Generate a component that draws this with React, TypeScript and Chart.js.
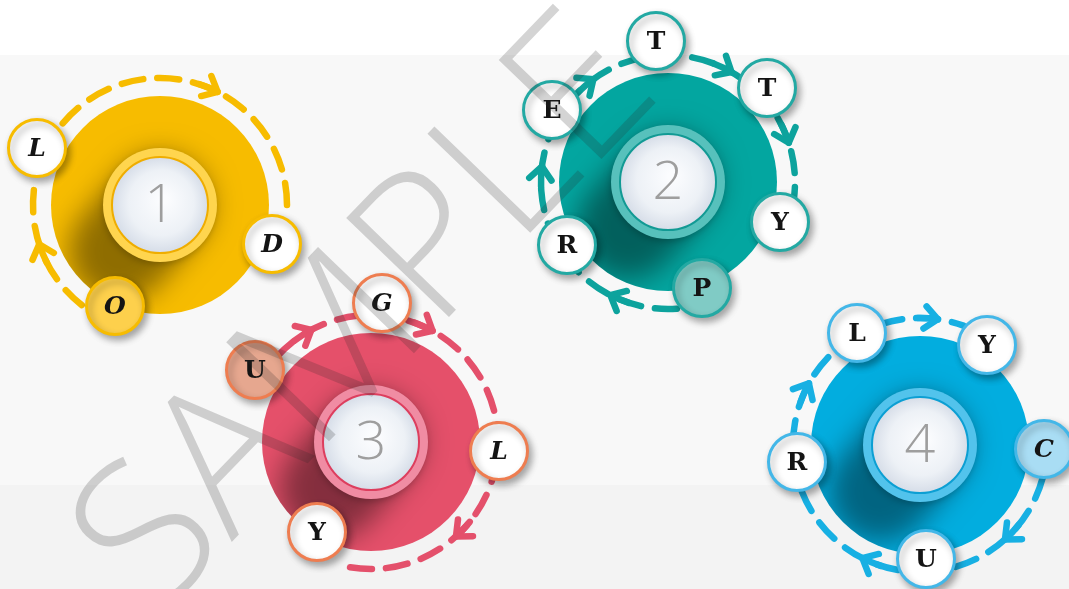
import React, { useEffect, useRef } from 'react';
import { Chart, registerables } from 'chart.js';
Chart.register(...registerables);

const W = 1069;
const H = 589;

// ---- groups (the four numbered discs) ----
const groupNumbers = ['1', '2', '3', '4'];
const groupWords = ['OLD', 'PRETTY', 'UGLY', 'CURLY'];
const groupX = [160, 668, 371, 920];
const groupY = [205, 182, 442, 445];

// ---- letters around the discs ----
const letterText = ['L', 'D', 'O', 'T', 'T', 'Y', 'P', 'R', 'E', 'G', 'L', 'Y', 'U', 'L', 'Y', 'C', 'U', 'R'];
const letterGroup = [0, 0, 0, 1, 1, 1, 1, 1, 1, 2, 2, 2, 2, 3, 3, 3, 3, 3];
const letterX = [37, 272, 115, 656, 767, 780, 702, 567, 552, 382, 499, 317, 255, 857, 987, 1044, 926, 797];
const letterY = [148, 244, 306, 41, 88, 222, 288, 245, 110, 303, 451, 532, 370, 333, 345, 449, 559, 462];

// ---- dashed orbit segments (degrees, clockwise) ----
const arcGroup = [0, 0, 1, 2, 3, 3, 3];
const arcStart = [-140, 128, 86, -138, -108, 15, 100];
const arcEnd = [6, 190, 368, 100, -70, 75, 232];

// ---- arrow heads on the orbits (degrees) ----
const arrowGroup = [0, 0, 1, 1, 1, 1, 1, 2, 2, 2, 3, 3, 3, 3];
const arrowAngle = [-63, 162, 117, 187, 234, 300, 342, -118, -61, 48, -82, 48, 117, 209];

// ---- watermark ----
const watermarkText = 'SAMPLE';
const watermarkAnchorX = 530; // corner of the "L"
const watermarkAnchorY = 223;
const watermarkAngle = -46;

// ---- styles ----
const groupColor = ['#F7BC00', '#03A6A0', '#E5506A', '#02ADDF'];
const arcColor = ['#F7BC00', '#0DA39D', '#E4506B', '#17B0E3'];
const ringColor = ['#FFD54E', '#57C1BC', '#F08CA3', '#52C3EC'];
const ringLine = ['#EFAD00', '#129A94', '#DD3E5E', '#0C9FD3'];
const letterBorder = ['#F7BC00', '#23A9A3', '#EE7D50', '#43B7E8'];
const letterFill = ['#FDD04C', '#80CBC5', '#E6A78F', '#A9DDF4'];
const italicLetters = [0, 1, 2, 9, 10, 15];

const DISC_R = 109;
const RING_R = 57;
const CENTER_R = 48;
const LETTER_R = 28.5;
const ORBIT_R = 127;

const isFirst = (i: number) => groupWords[letterGroup[i]][0] === letterText[i];

const rad = (d: number) => (d * Math.PI) / 180;

function drawArrow(ctx: CanvasRenderingContext2D, cx: number, cy: number, deg: number) {
  const a = rad(deg);
  const tx = cx + ORBIT_R * Math.cos(a);
  const ty = cy + ORBIT_R * Math.sin(a);
  const dx = -Math.sin(a);
  const dy = Math.cos(a);
  const back = Math.atan2(-dy, -dx);
  const L = 17;
  const spread = 0.72;
  ctx.beginPath();
  ctx.arc(cx, cy, ORBIT_R, a - 20 / ORBIT_R, a, false);
  ctx.stroke();
  ctx.beginPath();
  ctx.moveTo(tx + L * Math.cos(back + spread), ty + L * Math.sin(back + spread));
  ctx.lineTo(tx, ty);
  ctx.lineTo(tx + L * Math.cos(back - spread), ty + L * Math.sin(back - spread));
  ctx.stroke();
}

const infographicPlugin = {
  id: 'infographic',
  beforeDraw(chart: any) {
    const ctx = chart.ctx as CanvasRenderingContext2D;
    const ys = chart.scales.y;
    ctx.save();
    ctx.fillStyle = '#FFFFFF';
    ctx.fillRect(0, 0, chart.width, chart.height);
    const top = ys.getPixelForValue(55);
    const mid = ys.getPixelForValue(485);
    ctx.fillStyle = '#F8F8F8';
    ctx.fillRect(0, top, chart.width, mid - top);
    ctx.fillStyle = '#F3F3F3';
    ctx.fillRect(0, mid, chart.width, chart.height - mid);
    ctx.restore();
  },
  beforeDatasetDraw(chart: any, args: any) {
    const ctx = chart.ctx as CanvasRenderingContext2D;
    const label = chart.data.datasets[args.index].label;
    if (label === 'rings') {
      const discs = chart.getDatasetMeta(0).data;
      discs.forEach((el: any) => {
        ctx.save();
        ctx.beginPath();
        ctx.arc(el.x, el.y, DISC_R, 0, Math.PI * 2);
        ctx.clip();
        ctx.shadowColor = 'rgba(0,0,0,0.42)';
        ctx.shadowBlur = 28;
        ctx.shadowOffsetX = 3000;
        ctx.shadowOffsetY = 0;
        ctx.fillStyle = '#000';
        ctx.beginPath();
        for (let k = 0; k <= 10; k++) {
          const t = k / 10;
          const px = el.x - 3000 - 40 * t;
          const py = el.y + 46 * t;
          ctx.moveTo(px + RING_R - 6, py);
          ctx.arc(px, py, RING_R - 6, 0, Math.PI * 2);
        }
        ctx.fill();
        ctx.restore();
      });
      ctx.save();
      ctx.shadowColor = 'rgba(0,0,0,0.18)';
      ctx.shadowBlur = 6;
      ctx.shadowOffsetX = -1;
      ctx.shadowOffsetY = 3;
    }
    if (label === 'letters') {
      const discs = chart.getDatasetMeta(0).data;
      ctx.save();
      ctx.lineCap = 'round';
      ctx.lineJoin = 'round';
      arcGroup.forEach((g, i) => {
        const el = discs[g];
        ctx.strokeStyle = arcColor[g];
        ctx.lineWidth = 6.5;
        ctx.setLineDash([22, 14]);
        ctx.beginPath();
        ctx.arc(el.x, el.y, ORBIT_R, rad(arcStart[i]), rad(arcEnd[i]), false);
        ctx.stroke();
      });
      ctx.setLineDash([]);
      arrowGroup.forEach((g, i) => {
        const el = discs[g];
        ctx.strokeStyle = arcColor[g];
        ctx.lineWidth = 6.5;
        drawArrow(ctx, el.x, el.y, arrowAngle[i]);
      });
      ctx.restore();
      ctx.save();
      ctx.shadowColor = 'rgba(0,0,0,0.32)';
      ctx.shadowBlur = 7;
      ctx.shadowOffsetX = 3;
      ctx.shadowOffsetY = 4;
    }
  },
  afterDatasetDraw(chart: any, args: any) {
    const ctx = chart.ctx as CanvasRenderingContext2D;
    const label = chart.data.datasets[args.index].label;
    if (label === 'rings') {
      ctx.restore();
    }
    if (label === 'centers') {
      const meta = chart.getDatasetMeta(args.index);
      ctx.save();
      ctx.fillStyle = '#9E9E9E';
      ctx.font = '300 54px "Open Sans", "Noto Sans", sans-serif';
      ctx.textAlign = 'center';
      ctx.textBaseline = 'middle';
      meta.data.forEach((el: any, i: number) => {
        ctx.fillText(groupNumbers[i], el.x, el.y + 2);
      });
      ctx.restore();
    }
    if (label === 'letters') {
      ctx.restore();
      const meta = chart.getDatasetMeta(args.index);
      ctx.save();
      ctx.fillStyle = '#141414';
      ctx.textAlign = 'center';
      ctx.textBaseline = 'middle';
      meta.data.forEach((el: any, i: number) => {
        const it = italicLetters.indexOf(i) >= 0 ? 'italic ' : '';
        ctx.font = it + 'bold 25px "DejaVu Serif", serif';
        ctx.fillText(letterText[i], el.x, el.y + 1);
      });
      ctx.restore();
    }
  },
  afterDraw(chart: any) {
    const ctx = chart.ctx as CanvasRenderingContext2D;
    ctx.save();
    ctx.font = '300 200px "Open Sans", "Noto Sans", sans-serif';
    ctx.textAlign = 'left';
    ctx.textBaseline = 'alphabetic';
    const th = rad(watermarkAngle);
    const stroke = 14;
    const before = ctx.measureText(watermarkText.slice(0, 4)).width;
    const mL = ctx.measureText(watermarkText[4]);
    const lx = before - mL.actualBoundingBoxLeft + stroke / 2;
    const ly = -stroke / 2;
    const px = chart.scales.x.getPixelForValue(watermarkAnchorX);
    const py = chart.scales.y.getPixelForValue(watermarkAnchorY);
    const ox = px - (lx * Math.cos(th) - ly * Math.sin(th));
    const oy = py - (lx * Math.sin(th) + ly * Math.cos(th));
    ctx.translate(ox, oy);
    ctx.rotate(th);
    ctx.fillStyle = 'rgba(40,40,40,0.2)';
    ctx.fillText(watermarkText, 0, 0);
    ctx.restore();
  },
};

export default function App() {
  const ref = useRef<HTMLCanvasElement | null>(null);
  useEffect(() => {
    const canvas = ref.current;
    if (!canvas) return;
    document.body.style.margin = '0';
    const centerFill = (c: any) => {
      const chart = c.chart;
      const raw = c.raw;
      if (!raw || !chart.scales || !chart.scales.x || !chart.scales.y) return '#EEF2F7';
      const px = chart.scales.x.getPixelForValue(raw.x);
      const py = chart.scales.y.getPixelForValue(raw.y);
      if (!Number.isFinite(px) || !Number.isFinite(py)) return '#EEF2F7';
      const g = chart.ctx.createRadialGradient(px + 4, py - 6, 4, px, py, CENTER_R);
      g.addColorStop(0, '#FBFCFE');
      g.addColorStop(0.65, '#EDF1F6');
      g.addColorStop(1, '#D6DDE8');
      return g;
    };
    const chart = new Chart(canvas, {
      type: 'bubble',
      data: {
        datasets: [
          {
            label: 'discs',
            data: groupX.map((x, i) => ({ x, y: groupY[i], r: DISC_R })),
            backgroundColor: groupColor,
            borderWidth: 0,
            order: 5,
            clip: false,
          },
          {
            label: 'rings',
            data: groupX.map((x, i) => ({ x, y: groupY[i], r: RING_R })),
            backgroundColor: ringColor,
            borderWidth: 0,
            order: 4,
            clip: false,
          },
          {
            label: 'centers',
            data: groupX.map((x, i) => ({ x, y: groupY[i], r: CENTER_R })),
            backgroundColor: centerFill,
            borderColor: ringLine,
            borderWidth: 2,
            order: 3,
            clip: false,
          },
          {
            label: 'letters',
            data: letterX.map((x, i) => ({ x, y: letterY[i], r: LETTER_R })),
            backgroundColor: letterText.map((_, i) => (isFirst(i) ? letterFill[letterGroup[i]] : '#FFFFFF')),
            borderColor: letterGroup.map((g) => letterBorder[g]),
            borderWidth: 3,
            order: 1,
            clip: false,
          },
        ] as any,
      },
      options: {
        responsive: false,
        maintainAspectRatio: false,
        animation: false,
        events: [],
        layout: { padding: 0, autoPadding: false },
        plugins: { legend: { display: false }, tooltip: { enabled: false } },
        scales: {
          x: { type: 'linear', display: false, min: 0, max: W },
          y: { type: 'linear', display: false, min: 0, max: H, reverse: true },
        },
      } as any,
      plugins: [infographicPlugin as any],
    });
    let alive = true;
    if ((document as any).fonts && (document as any).fonts.ready) {
      (document as any).fonts.ready.then(() => {
        if (alive) chart.draw();
      });
    }
    return () => {
      alive = false;
      chart.destroy();
    };
  }, []);
  return (
    <canvas
      ref={ref}
      width={W}
      height={H}
      style={{ position: 'fixed', left: 0, top: 0, width: W, height: H, display: 'block' }}
    />
  );
}
